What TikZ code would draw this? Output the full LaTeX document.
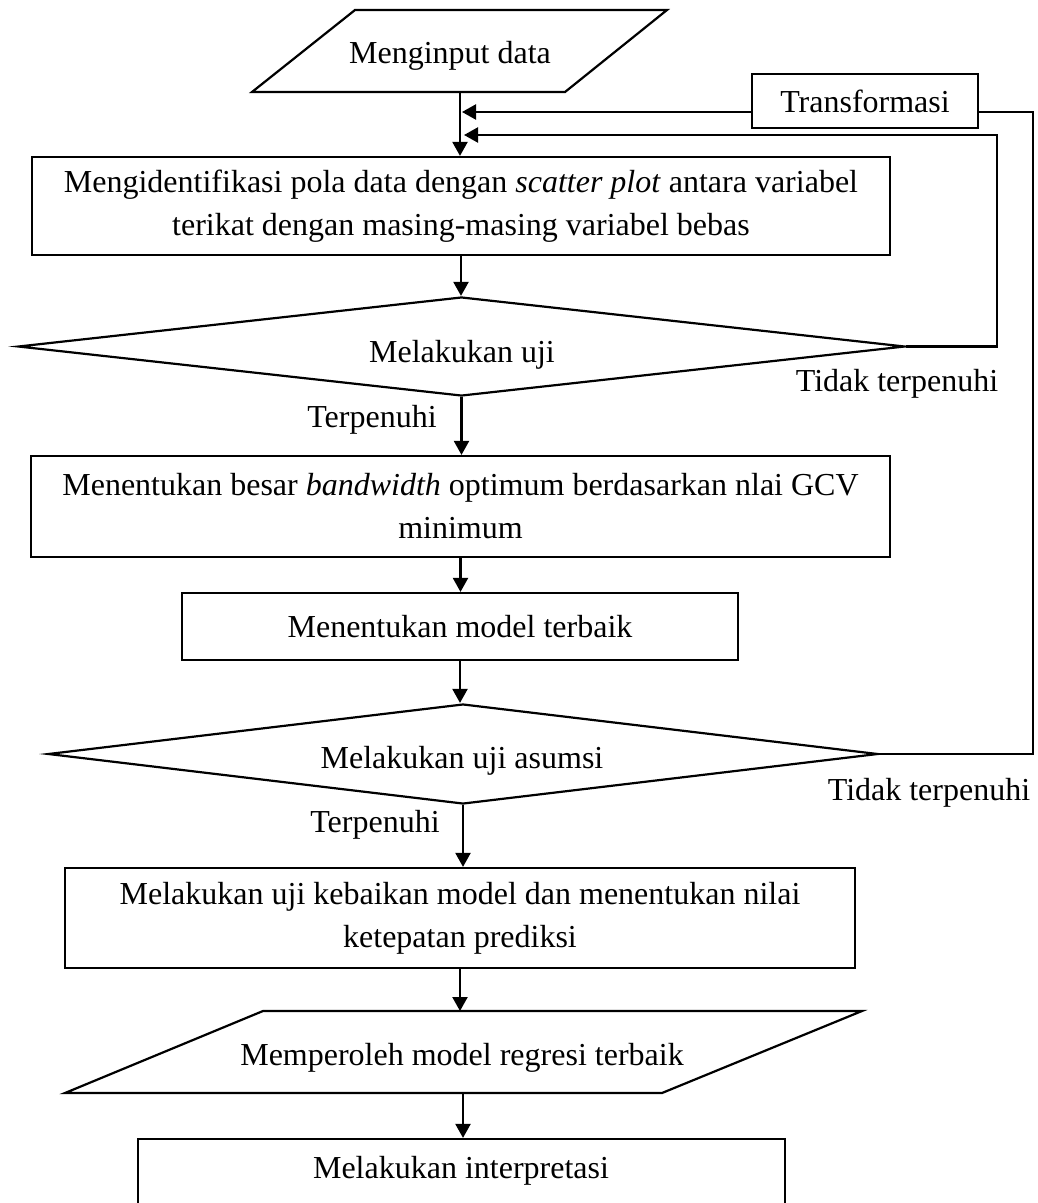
\documentclass[tikz,border=0pt]{standalone}
\usepackage{fontspec}
\setmainfont{Liberation Serif}
\usetikzlibrary{arrows.meta,shapes.geometric,calc}
\begin{document}
\begin{tikzpicture}[x=1pt,y=-1pt,
  every node/.style={font=\fontsize{32}{43}\selectfont},
  box/.style={draw, line width=2.2pt, rectangle, inner sep=0pt, align=center},
  dec/.style={draw, line width=2.2pt, diamond, inner sep=0pt, shape aspect=9},
  txt/.style={anchor=base, inner sep=0pt},
  flow/.style={line width=2.2pt},
  arr/.style={line width=2.2pt, -{Triangle[length=14pt,width=15pt]}},
]
\useasboundingbox (0,0) rectangle (1037,1203);
\clip (0,0) rectangle (1037,1203);

% input parallelogram
\draw[flow] (355,10) -- (667,10) -- (565,92) -- (252,92) -- cycle;
\node[txt] (in) at (450,63) {Menginput data};
\coordinate (inS) at (460,92);

% boxes
\node[box, minimum width=858pt, minimum height=98pt] (b1) at (461,206)
  {Mengidentifikasi pola data dengan \textit{scatter plot} antara variabel\\terikat dengan masing-masing variabel bebas};
\node[dec, minimum width=887pt, minimum height=99pt] (d1) at (461.5,346.5) {};
\node[txt] (d1t) at (462,362) {Melakukan uji};
\node[box, minimum width=859pt, minimum height=101pt] (b2) at (460.5,506.5)
  {Menentukan besar \textit{bandwidth} optimum berdasarkan nlai GCV\\minimum};
\node[box, minimum width=556pt, minimum height=67pt] (b3) at (460,626.5)
  {Menentukan model terbaik};
\node[dec, minimum width=830pt, minimum height=100pt] (d2) at (463,754) {};
\node[txt] (d2t) at (462,768) {Melakukan uji asumsi};
\node[box, minimum width=790pt, minimum height=100pt] (b4) at (460,918)
  {Melakukan uji kebaikan model dan menentukan nilai\\ketepatan prediksi};

% output parallelogram
\draw[flow] (263,1011) -- (862,1011) -- (662,1093) -- (65,1093) -- cycle;
\node[txt] (out) at (462,1065) {Memperoleh model regresi terbaik};
\coordinate (p2N) at (463,1011);
\coordinate (p2S) at (463,1093);

\node[box, minimum width=647pt, minimum height=100pt] (b5) at (461.5,1189) {};
\node[txt] (b5t) at (461,1178) {Melakukan interpretasi};

% transformasi
\node[box, minimum width=226pt, minimum height=54pt] (tr) at (865,101) {Transformasi};

% main arrows
\draw[arr] (inS) -- (inS |- b1.north);
\draw[arr] (b1.south) -- (b1.south |- d1.north);
\draw[arr] (d1.south) -- (d1.south |- b2.north);
\draw[arr] (b2.south) -- (b2.south |- b3.north);
\draw[arr] (b3.south) -- (b3.south |- d2.north);
\draw[arr] (d2.south) -- (d2.south |- b4.north);
\draw[arr] (b4.south) -- (b4.south |- p2N);
\draw[arr] (p2S) -- (p2S |- b5.north);

% feedback lines
\coordinate (j1) at (462,112);
\coordinate (j2) at (464,135);
\coordinate (c1) at (1033,112);
\coordinate (c2) at (997,135);
\draw[flow] (d2.east) -| (c1) -- (c1 -| tr.east);
\draw[arr] (c1 -| tr.west) -- (j1);
\draw[arr] (d1.east) -| (c2) -- (j2);

% labels
\node[txt] (t1) at (897,391) {Tidak terpenuhi};
\node[txt] (y1) at (372,427) {Terpenuhi};
\node[txt] (t2) at (929,800) {Tidak terpenuhi};
\node[txt] (y2) at (375,832) {Terpenuhi};
\end{tikzpicture}
\end{document}
